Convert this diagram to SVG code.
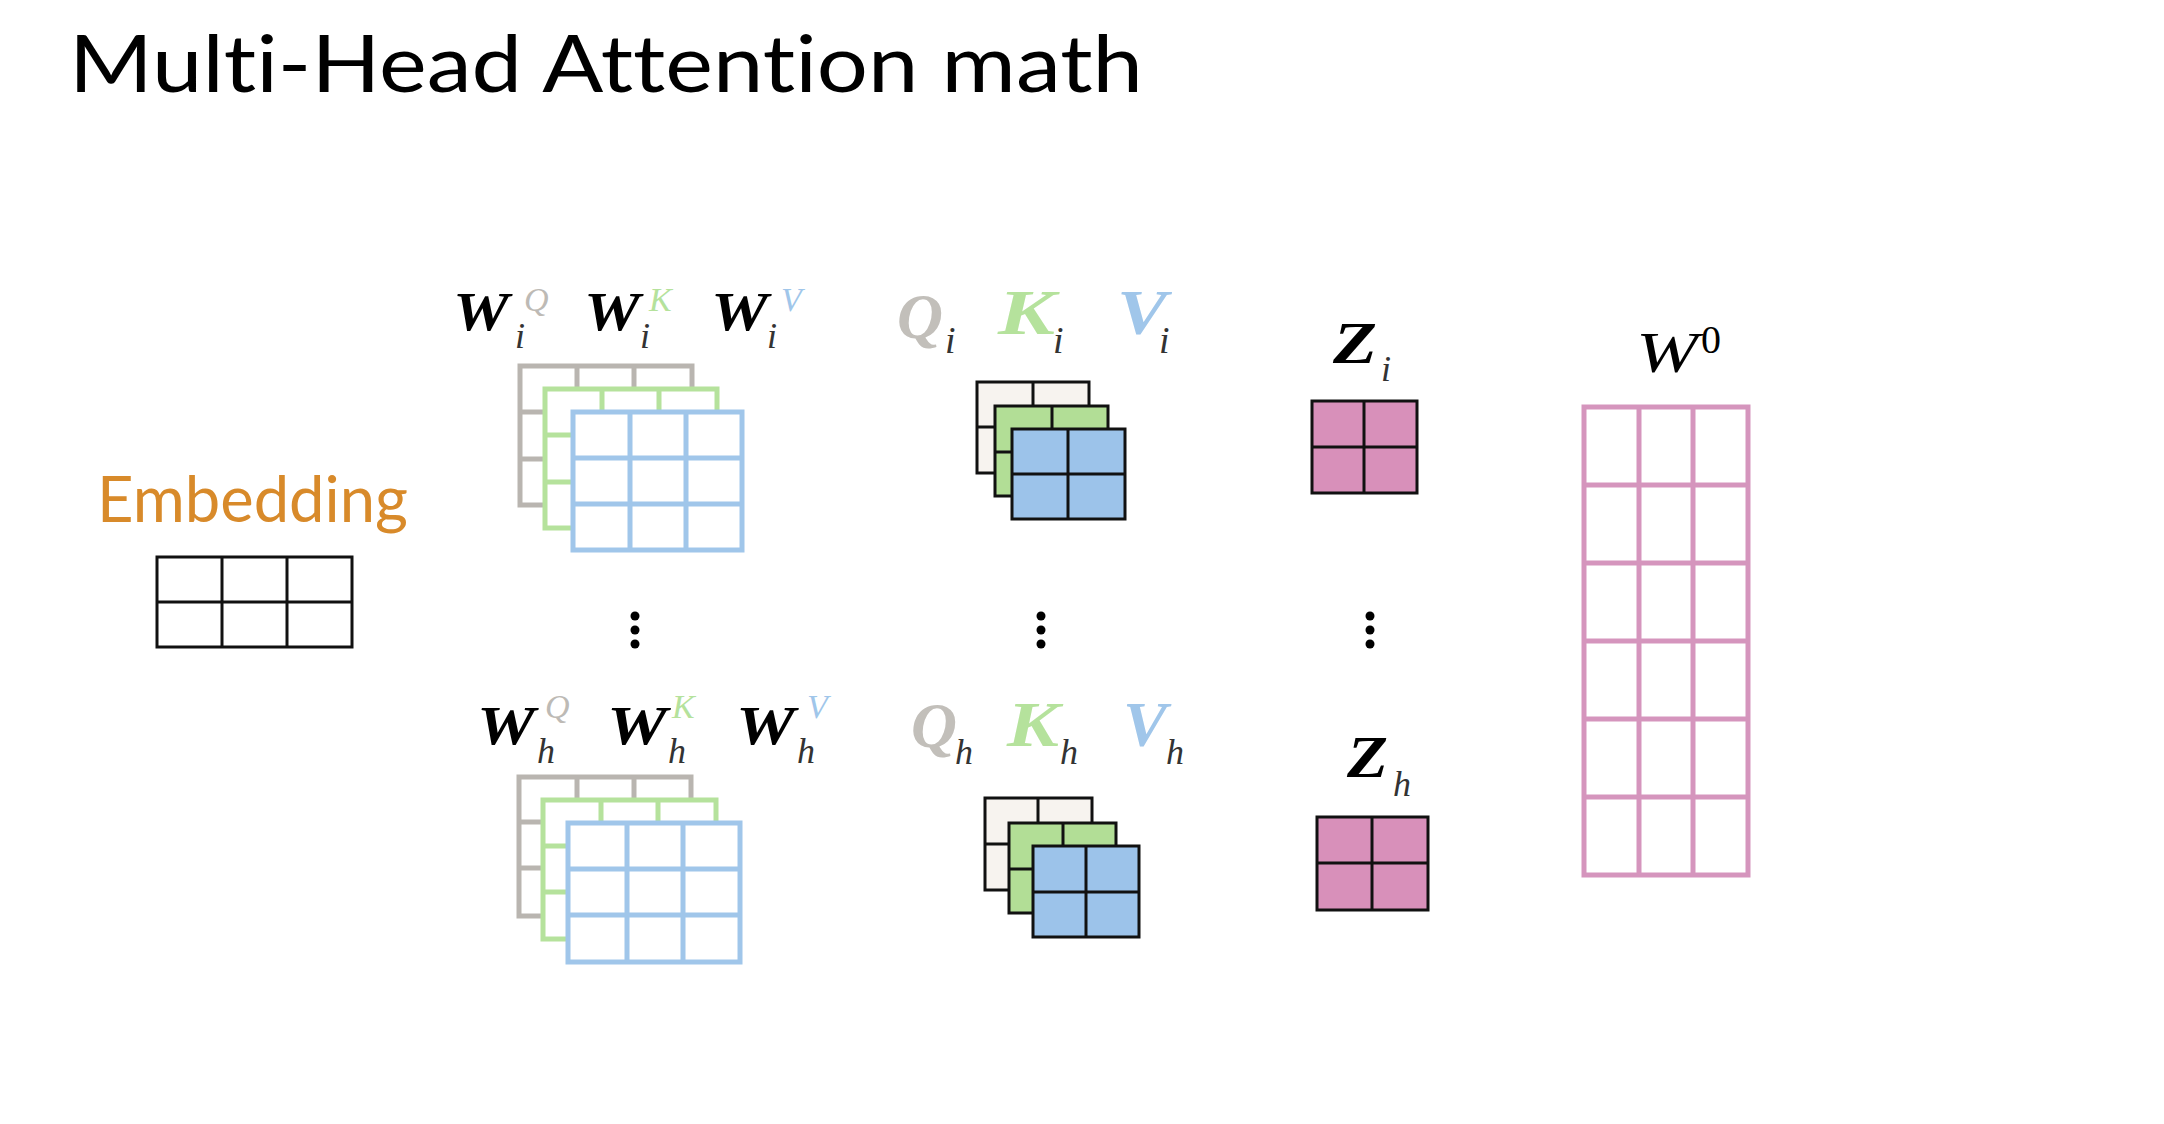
<svg xmlns="http://www.w3.org/2000/svg" width="2164" height="1124" viewBox="0 0 2164 1124">
<style>
.title{font-family:Lato,"Liberation Sans",sans-serif;font-size:80px;fill:#000;font-variant-ligatures:none;font-feature-settings:"liga" 0,"clig" 0,"dlig" 0}
.emb{font-family:Lato,"Liberation Sans",sans-serif;font-size:64px;fill:#d88a2a;font-variant-ligatures:none}
.mb{font-family:"Liberation Serif",serif;font-style:italic;font-weight:bold}
.mi{font-family:"Liberation Serif",serif;font-style:italic}
.mr{font-family:"Liberation Serif",serif}
.gq{stroke:#b9b5b0}
.gk{stroke:#b5e29c}
.gv{stroke:#a0c6ea}
.big{fill:#fff;stroke-width:5}
.sm{stroke:#111;stroke-width:3}
.dot{fill:#000}
</style>
<rect width="2164" height="1124" fill="#fff"/>
<text class="title" x="69" y="92" textLength="1074" lengthAdjust="spacingAndGlyphs">Multi-Head Attention math</text>

<g id="embedding">
<text class="emb" x="97" y="522" textLength="311" lengthAdjust="spacingAndGlyphs">Embedding</text>
<g class="sm" fill="#fff">
<rect x="157" y="557" width="195" height="90"/>
<line x1="222" y1="557" x2="222" y2="647"/><line x1="287" y1="557" x2="287" y2="647"/>
<line x1="157" y1="602" x2="352" y2="602"/>
</g>
</g>

<g id="weights-i">
<text class="mb" x="453" y="330" font-size="54" textLength="56" lengthAdjust="spacingAndGlyphs">W</text>
<text class="mi" x="524" y="311" font-size="34" fill="#bdbab5">Q</text>
<text class="mi" x="515" y="348" font-size="36" fill="#333">i</text>
<text class="mb" x="584" y="330" font-size="54" textLength="56" lengthAdjust="spacingAndGlyphs">W</text>
<text class="mi" x="649" y="311" font-size="34" fill="#b5e29c">K</text>
<text class="mi" x="640" y="348" font-size="36" fill="#333">i</text>
<text class="mb" x="711" y="330" font-size="54" textLength="57" lengthAdjust="spacingAndGlyphs">W</text>
<text class="mi" x="781" y="311" font-size="34" fill="#a0c6ea">V</text>
<text class="mi" x="767" y="348" font-size="36" fill="#333">i</text>
<g class="big gq">
<rect x="520" y="366" width="172" height="139"/>
<line x1="577" y1="366" x2="577" y2="505"/><line x1="634" y1="366" x2="634" y2="505"/>
<line x1="520" y1="412" x2="692" y2="412"/><line x1="520" y1="459" x2="692" y2="459"/>
</g>
<g class="big gk">
<rect x="545" y="389" width="172" height="139"/>
<line x1="602" y1="389" x2="602" y2="528"/><line x1="659" y1="389" x2="659" y2="528"/>
<line x1="545" y1="435" x2="717" y2="435"/><line x1="545" y1="482" x2="717" y2="482"/>
</g>
<g class="big gv">
<rect x="573" y="412" width="169" height="138"/>
<line x1="630" y1="412" x2="630" y2="550"/><line x1="686" y1="412" x2="686" y2="550"/>
<line x1="573" y1="458" x2="742" y2="458"/><line x1="573" y1="504" x2="742" y2="504"/>
</g>
</g>

<g id="qkv-i">
<text class="mb" x="897" y="338" font-size="64" fill="#c2bfba" textLength="46" lengthAdjust="spacingAndGlyphs">Q</text>
<text class="mi" x="945" y="353" font-size="38" fill="#333">i</text>
<text class="mb" x="998" y="334" font-size="64" fill="#b5e29c" textLength="57" lengthAdjust="spacingAndGlyphs">K</text>
<text class="mi" x="1053" y="353" font-size="38" fill="#333">i</text>
<text class="mb" x="1117" y="334" font-size="64" fill="#a0c6ea" textLength="50" lengthAdjust="spacingAndGlyphs">V</text>
<text class="mi" x="1159" y="353" font-size="38" fill="#333">i</text>
<g class="sm">
<rect x="977" y="382" width="112" height="91" fill="#f7f3ef"/>
<line x1="1033" y1="382" x2="1033" y2="473"/><line x1="977" y1="427" x2="1089" y2="427"/>
<rect x="995" y="406" width="113" height="90" fill="#b2de96"/>
<line x1="1052" y1="406" x2="1052" y2="496"/><line x1="995" y1="452" x2="1108" y2="452"/>
<rect x="1012" y="429" width="113" height="90" fill="#9cc3ea"/>
<line x1="1068" y1="429" x2="1068" y2="519"/><line x1="1012" y1="474" x2="1125" y2="474"/>
</g>
</g>

<g id="z-i">
<text class="mb" x="1333" y="363" font-size="60" textLength="44" lengthAdjust="spacingAndGlyphs">Z</text>
<text class="mi" x="1381" y="381" font-size="36" fill="#333">i</text>
<g class="sm">
<rect x="1312" y="401" width="105" height="92" fill="#d890ba"/>
<line x1="1364" y1="401" x2="1364" y2="493"/><line x1="1312" y1="447" x2="1417" y2="447"/>
</g>
</g>

<g id="dots">
<circle class="dot" cx="635" cy="616" r="4.5"/><circle class="dot" cx="635" cy="630" r="4.5"/><circle class="dot" cx="635" cy="644" r="4.5"/>
<circle class="dot" cx="1041" cy="616" r="4.5"/><circle class="dot" cx="1041" cy="630" r="4.5"/><circle class="dot" cx="1041" cy="644" r="4.5"/>
<circle class="dot" cx="1370" cy="616" r="4.5"/><circle class="dot" cx="1370" cy="630" r="4.5"/><circle class="dot" cx="1370" cy="644" r="4.5"/>
</g>

<g id="weights-h">
<text class="mb" x="477" y="744" font-size="54" textLength="58" lengthAdjust="spacingAndGlyphs">W</text>
<text class="mi" x="545" y="718" font-size="34" fill="#bdbab5">Q</text>
<text class="mi" x="537" y="763" font-size="36" fill="#333">h</text>
<text class="mb" x="607" y="744" font-size="54" textLength="60" lengthAdjust="spacingAndGlyphs">W</text>
<text class="mi" x="672" y="718" font-size="34" fill="#b5e29c">K</text>
<text class="mi" x="668" y="763" font-size="36" fill="#333">h</text>
<text class="mb" x="736" y="744" font-size="54" textLength="59" lengthAdjust="spacingAndGlyphs">W</text>
<text class="mi" x="807" y="718" font-size="34" fill="#a0c6ea">V</text>
<text class="mi" x="797" y="763" font-size="36" fill="#333">h</text>
<g class="big gq">
<rect x="519" y="777" width="172" height="139"/>
<line x1="577" y1="777" x2="577" y2="916"/><line x1="634" y1="777" x2="634" y2="916"/>
<line x1="519" y1="822" x2="691" y2="822"/><line x1="519" y1="868" x2="691" y2="868"/>
</g>
<g class="big gk">
<rect x="543" y="800" width="173" height="139"/>
<line x1="601" y1="800" x2="601" y2="939"/><line x1="658" y1="800" x2="658" y2="939"/>
<line x1="543" y1="846" x2="716" y2="846"/><line x1="543" y1="892" x2="716" y2="892"/>
</g>
<g class="big gv">
<rect x="568" y="823" width="172" height="139"/>
<line x1="627" y1="823" x2="627" y2="962"/><line x1="683" y1="823" x2="683" y2="962"/>
<line x1="568" y1="869" x2="740" y2="869"/><line x1="568" y1="915" x2="740" y2="915"/>
</g>
</g>

<g id="qkv-h">
<text class="mb" x="911" y="747" font-size="64" fill="#c2bfba" textLength="46" lengthAdjust="spacingAndGlyphs">Q</text>
<text class="mi" x="955" y="764" font-size="36" fill="#333">h</text>
<text class="mb" x="1007" y="746" font-size="64" fill="#b5e29c" textLength="52" lengthAdjust="spacingAndGlyphs">K</text>
<text class="mi" x="1060" y="764" font-size="36" fill="#333">h</text>
<text class="mb" x="1123" y="746" font-size="64" fill="#a0c6ea" textLength="44" lengthAdjust="spacingAndGlyphs">V</text>
<text class="mi" x="1166" y="764" font-size="36" fill="#333">h</text>
<g class="sm">
<rect x="985" y="798" width="107" height="92" fill="#f7f3ef"/>
<line x1="1038" y1="798" x2="1038" y2="890"/><line x1="985" y1="844" x2="1092" y2="844"/>
<rect x="1009" y="823" width="107" height="90" fill="#b2de96"/>
<line x1="1063" y1="823" x2="1063" y2="913"/><line x1="1009" y1="869" x2="1116" y2="869"/>
<rect x="1033" y="846" width="106" height="91" fill="#9cc3ea"/>
<line x1="1086" y1="846" x2="1086" y2="937"/><line x1="1033" y1="892" x2="1139" y2="892"/>
</g>
</g>

<g id="z-h">
<text class="mb" x="1347" y="777" font-size="60" textLength="41" lengthAdjust="spacingAndGlyphs">Z</text>
<text class="mi" x="1393" y="796" font-size="36" fill="#333">h</text>
<g class="sm">
<rect x="1317" y="817" width="111" height="93" fill="#d890ba"/>
<line x1="1372" y1="817" x2="1372" y2="910"/><line x1="1317" y1="863" x2="1428" y2="863"/>
</g>
</g>

<g id="w0">
<text class="mi" x="1636" y="372" font-size="58" textLength="62" lengthAdjust="spacingAndGlyphs">W</text>
<text class="mr" x="1701" y="353" font-size="40">0</text>
<g stroke="#d595bd" stroke-width="5" fill="#fff">
<rect x="1584" y="407" width="164" height="468"/>
<line x1="1639" y1="407" x2="1639" y2="875"/><line x1="1693" y1="407" x2="1693" y2="875"/>
<line x1="1584" y1="485" x2="1748" y2="485"/><line x1="1584" y1="563" x2="1748" y2="563"/>
<line x1="1584" y1="641" x2="1748" y2="641"/><line x1="1584" y1="719" x2="1748" y2="719"/>
<line x1="1584" y1="797" x2="1748" y2="797"/>
</g>
</g>
</svg>
